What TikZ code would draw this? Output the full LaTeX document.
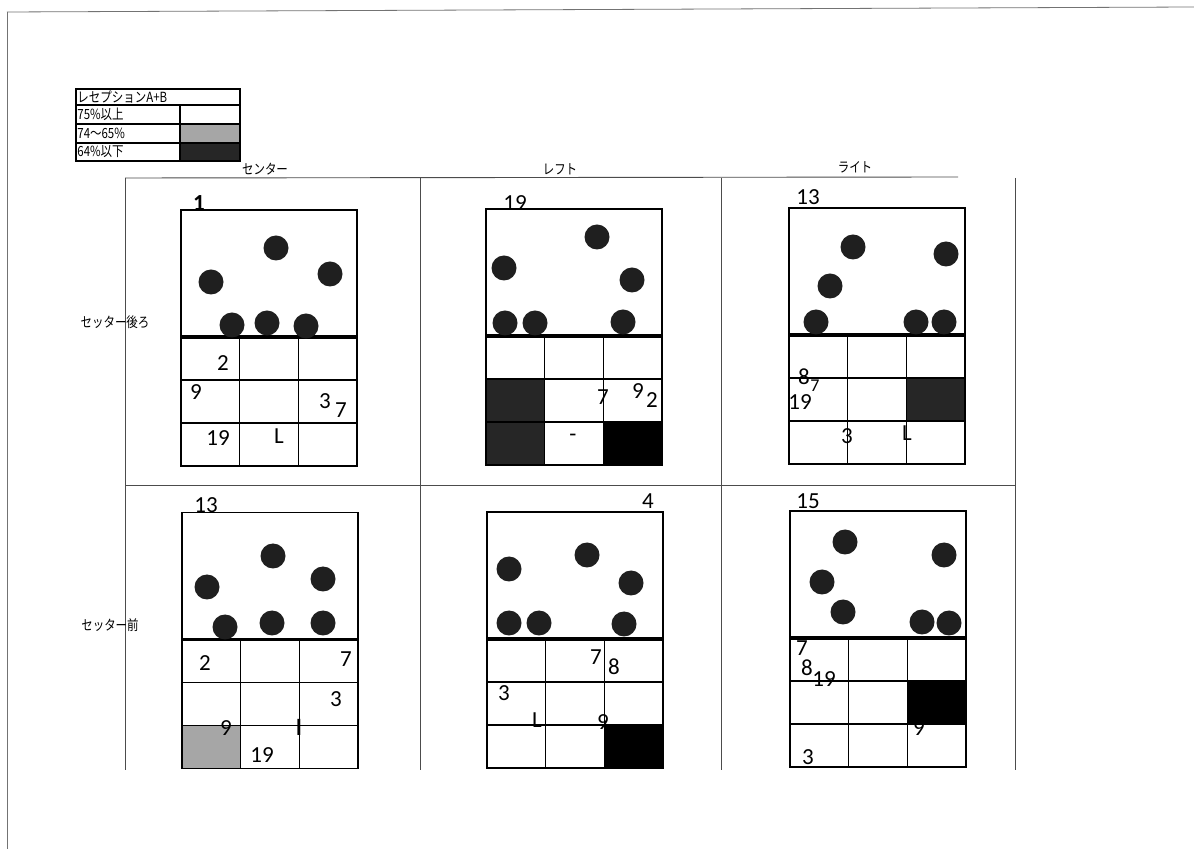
\documentclass[tikz,border=0pt]{standalone}
\usepackage{fontspec}
\setmainfont{Carlito}
\newfontfamily\jpfont[FakeStretch=0.82]{Noto Sans CJK JP}
% one shaded cell of the 3x3 zone grid (column, row, fill style)
\newcommand\courtcell[3]{\fill[#3] ({(#1-1)*58.7},{127+(#2-1)*43}) rectangle ++(58.7,43);}
% outline, zone grid and net of one court
\newcommand\courtlines{%
  \draw[courtline] (0,0) rectangle (176,256);
  \foreach \cx in {58.7,117.3} \draw[courtline] (\cx,127) -- (\cx,256);
  \foreach \cy in {170,213} \draw[courtline] (0,\cy) -- (176,\cy);
  \draw[netline] (0,127) -- (176,127);}
\begin{document}
\begin{tikzpicture}[x=0.5pt,y=-0.5pt,
    frameline/.style={black!70, line width=0.45pt},
    courtline/.style={black, line width=0.6pt},
    netline/.style={black, line width=1.6pt},
    player/.style={circle, fill=black!88, minimum size=12.5pt, inner sep=0pt},
    num/.style={font=\fontsize{11.5}{12}\selectfont, inner sep=0pt},
    smallnum/.style={font=\fontsize{9}{10}\selectfont, inner sep=0pt},
    jp/.style={font=\jpfont\fontsize{7}{8}\selectfont, inner sep=0pt},
    lightshade/.style={black!35},
    darkshade/.style={black!85},
    fullshade/.style={black}]
  \useasboundingbox (0,0) rectangle (1194,849);
  \fill[white] (0,0) rectangle (1194,849);
  % page edge
  \draw[black!55, line width=0.4pt] (7,12) -- (1194,7);
  \draw[black!55, line width=0.4pt] (7,12) -- (7,849);

  % legend
  \fill[lightshade] (180,124) rectangle (240,143);
  \fill[darkshade] (180,143) rectangle (240,161);
  \draw[courtline] (76,89) rectangle (240,161);
  \foreach \ly in {105,124,143} \draw[courtline] (76,\ly) -- (240,\ly);
  \draw[courtline] (180,105) -- (180,161);
  \node[jp, anchor=west] (legtitle) at (77,97) {レセプションA+B};
  \node[jp, anchor=west] (leghigh) at (77,114.5) {75\%以上};
  \node[jp, anchor=west] (legmid) at (77,133.5) {74〜65\%};
  \node[jp, anchor=west] (leglow) at (77,152) {64\%以下};

  % table frame
  \draw[frameline] (125,178) -- (958,177);
  \draw[frameline] (125,485) -- (1015,485);
  \foreach \fx in {125,420,721} \draw[frameline] (\fx,178) -- (\fx,770);
  \draw[frameline] (1015,178) -- (1015,770);
  \node[jp] (colcenter) at (265,169) {センター};
  \node[jp] (colleft) at (560,169) {レフト};
  \node[jp] (colright) at (855,167) {ライト};
  \node[jp] (rowback) at (115,322) {セッター後ろ};
  \node[jp] (rowfront) at (110,625) {セッター前};

  % center / back
  \begin{scope}[shift={(181,210)}]
    \courtlines
  \end{scope}
  \foreach \px/\py [count=\i] in {211/282,276/248,330/274,232/325,267/323,306/326}
    \node[player] (cb\i) at (\px,\py) {};
  \foreach \px/\py/\t [count=\i] in {199/203/\textbf{1},223/363/2,196/392/9,325/401/3,341/410/7,218/438/19,279/436/L}
    \node[num] (cbn\i) at (\px,\py) {\t};

  % left / back
  \begin{scope}[shift={(486,209)}]
    \courtcell{1}{2}{darkshade}
    \courtcell{1}{3}{darkshade}
    \courtcell{3}{3}{fullshade}
    \courtlines
  \end{scope}
  \foreach \px/\py [count=\i] in {504/268,597/237,632/280,505/323,535/323,623/322}
    \node[player] (lb\i) at (\px,\py) {};
  \foreach \px/\py/\t [count=\i] in {515/203/19,603/397/7,638/391/9,652/400/2,573/438/-}
    \node[num] (lbn\i) at (\px,\py) {\t};

  % right / back
  \begin{scope}[shift={(789,208)}]
    \courtcell{3}{2}{darkshade}
    \courtlines
  \end{scope}
  \foreach \px/\py [count=\i] in {853/247,946/254,830/286,816/322,916/322,944/322}
    \node[player] (rb\i) at (\px,\py) {};
  \foreach \px/\py/\t [count=\i] in {808/197/13,804/377/8,800/402/19,847/436/3,907/433/L}
    \node[num] (rbn\i) at (\px,\py) {\t};
  \node[smallnum] (rbn6) at (815,386) {7};

  % center / front
  \begin{scope}[shift={(182,512.5)}]
    \courtcell{1}{3}{lightshade}
    \courtlines
  \end{scope}
  \foreach \px/\py [count=\i] in {273/556,207/587,323/579,225/627,272/623,323/623}
    \node[player] (cf\i) at (\px,\py) {};
  \foreach \px/\py/\t [count=\i] in {206/505/13,205/663/2,346/659/7,336/699/3,226/728/9,299/727/\textbf{l},262/755/19}
    \node[num] (cfn\i) at (\px,\py) {\t};

  % left / front
  \begin{scope}[shift={(487,512)}]
    \courtcell{3}{3}{fullshade}
    \courtlines
  \end{scope}
  \foreach \px/\py [count=\i] in {509/569,587/555,631/583,509/623,539/623,624/624}
    \node[player] (lf\i) at (\px,\py) {};
  \foreach \px/\py/\t [count=\i] in {648/501/4,596/657/7,614/667/8,504/693/3,537/720/L,603/722/9}
    \node[num] (lfn\i) at (\px,\py) {\t};

  % right / front
  \begin{scope}[shift={(790,511)}]
    \courtcell{3}{2}{fullshade}
    \courtlines
  \end{scope}
  \foreach \px/\py [count=\i] in {845/542,944/555,822/582,843/612,922/622,949/623}
    \node[player] (rf\i) at (\px,\py) {};
  \foreach \px/\py/\t [count=\i] in {808/501/15,802/648/7,807/668/8,824/679/19,919/728/9,808/757/3}
    \node[num] (rfn\i) at (\px,\py) {\t};
\end{tikzpicture}
\end{document}
